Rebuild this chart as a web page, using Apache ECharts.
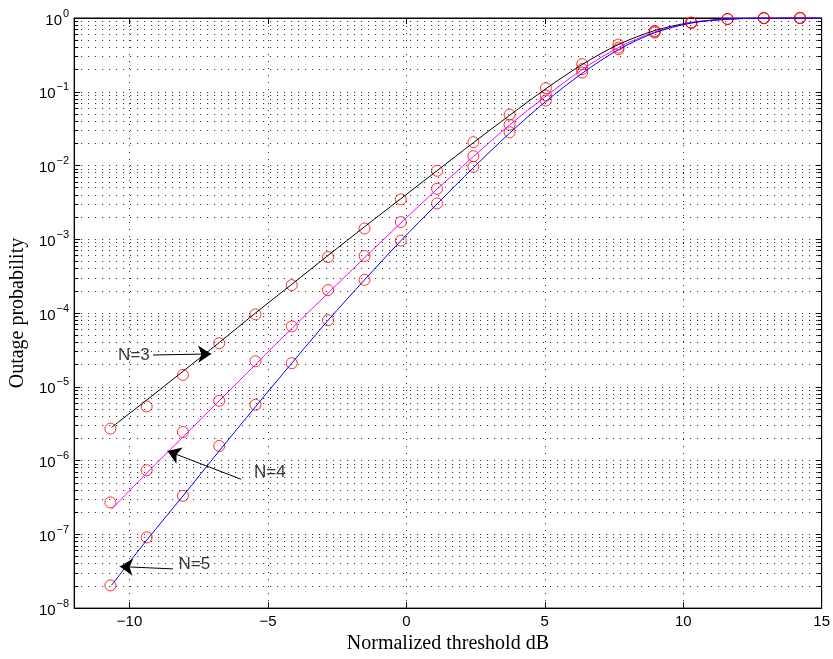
<!DOCTYPE html>
<html>
<head>
<meta charset="utf-8">
<script src="https://cdn.jsdelivr.net/npm/echarts@6/dist/echarts.min.js"></script>
<style>
  html, body { margin: 0; background: #fff; }
  #chart { width: 833px; height: 659px; }
</style>
</head>
<body>
<div id="chart"></div>
<script>
// simulated points (circles)
const xSim = [-10.69, -9.38, -8.07, -6.76, -5.45, -4.14, -2.83, -1.51, -0.20, 1.11, 2.42, 3.73, 5.04, 6.35, 7.66, 8.97, 10.29, 11.60, 12.91, 14.22]
const simN3 = [2.71e-6, 5.42e-6, 1.45e-5, 3.90e-5, 9.6e-5, 2.39e-4, 5.76e-4, 1.40e-3, 3.47e-3, 8.48e-3, 2.07e-2, 4.89e-2, 0.112, 0.237, 0.436, 0.668, 0.866, 0.970, 0.996, 1.0]
const simN4 = [2.71e-7, 7.39e-7, 2.44e-6, 6.47e-6, 2.22e-5, 6.6e-5, 2.05e-4, 5.94e-4, 1.71e-3, 4.84e-3, 1.34e-2, 3.58e-2, 0.089, 0.203, 0.397, 0.653, 0.862, 0.969, 0.996, 1.0]
const simN5 = [2.03e-8, 9.1e-8, 3.33e-7, 1.58e-6, 5.71e-6, 2.09e-5, 8.0e-5, 2.82e-4, 9.6e-4, 3.06e-3, 9.6e-3, 2.82e-2, 7.6e-2, 0.182, 0.377, 0.634, 0.858, 0.968, 0.996, 1.0]

// analytical curves (lines)
const xTh = [-10.65, -9.38, -8.07, -6.76, -5.45, -4.14, -2.83, -1.51, -0.20, 1.11, 2.42, 3.73, 5.04, 6.35, 7.66, 8.97, 10.29, 11.60, 12.91, 15]
const thN3 = [2.82e-6, 6.61e-6, 1.62e-5, 3.98e-5, 1.0e-4, 2.45e-4, 6.03e-4, 1.48e-3, 3.55e-3, 8.51e-3, 2.04e-2, 4.79e-2, 0.110, 0.234, 0.437, 0.676, 0.871, 0.966, 0.995, 1.0]
const thN4 = [2.19e-7, 6.76e-7, 2.09e-6, 6.46e-6, 2.0e-5, 6.17e-5, 1.86e-4, 5.62e-4, 1.66e-3, 4.79e-3, 1.32e-2, 3.55e-2, 8.71e-2, 0.200, 0.398, 0.646, 0.861, 0.966, 0.995, 1.0]
const thN5 = [2.04e-8, 8.32e-8, 3.31e-7, 1.35e-6, 5.37e-6, 2.09e-5, 7.94e-5, 2.82e-4, 9.55e-4, 3.02e-3, 9.33e-3, 2.75e-2, 7.41e-2, 0.178, 0.372, 0.631, 0.855, 0.964, 0.995, 1.0]

const xTicks = [-10, -5, 0, 5, 10, 15]
const curveNames = ['N=3', 'N=4', 'N=5']

const pair = (xs, ys) => xs.map((x, i) => [x, ys[i]])

// minor grid positions 2..9 x 10^k
const minorVals = []
for (let d = -8; d < 0; d++) {
  for (let m = 2; m <= 9; m++) minorVals.push(m * Math.pow(10, d))
}
const gridStyle = { type: [1, 6], color: '#222', width: 1 }
const gridLines = minorVals.map(v => ({ yAxis: v }))
  .concat(xTicks.slice(0, 5).map(v => ({ xAxis: v })))
const minorTicks = []
minorVals.forEach(v => {
  minorTicks.push([{ coord: [-12, v] }, { coord: [-11.85, v] }])
  minorTicks.push([{ coord: [14.85, v] }, { coord: [15, v] }])
})

const sans = 'Liberation Sans, Arial, sans-serif'
const serif = 'Liberation Serif, Times New Roman, serif'

function logLabel (v) {
  const e = Math.round(Math.log10(v))
  return '{b|10}{s|' + (e < 0 ? '\u2212' + (-e) : e) + '}'
}

const myChart = echarts.init(document.getElementById('chart'))
const option = {
  animation: false,
  backgroundColor: '#fff',
  grid: { left: 73, right: 11, top: 18, bottom: 49, show: true, borderColor: '#000', borderWidth: 1 },
  xAxis: [{
    type: 'value', min: -12, max: 15,
    name: 'Normalized threshold dB', nameLocation: 'middle', nameGap: 22,
    nameTextStyle: { fontFamily: serif, fontSize: 20, color: '#000' },
    axisLine: { onZero: false, lineStyle: { color: '#000' } },
    axisTick: { inside: true, length: 6, customValues: xTicks, lineStyle: { color: '#000' } },
    axisLabel: {
      customValues: xTicks, margin: 6, color: '#000', fontFamily: sans, fontSize: 15,
      formatter: v => (v < 0 ? '\u2212' + (-v) : '' + v)
    },
    splitLine: { show: false }
  }, {
    type: 'value', min: -12, max: 15, position: 'top',
    axisLine: { onZero: false, lineStyle: { color: '#000' } },
    axisTick: { inside: true, length: 6, customValues: xTicks, lineStyle: { color: '#000' } },
    axisLabel: { show: false },
    splitLine: { show: false }
  }],
  yAxis: [{
    type: 'log', logBase: 10, min: 1e-8, max: 1, interval: 1,
    name: 'Outage probability', nameLocation: 'middle', nameGap: 36,
    nameTextStyle: { fontFamily: serif, fontSize: 20, color: '#000' },
    axisLine: { onZero: false, lineStyle: { color: '#000' } },
    axisTick: { inside: true, length: 6, lineStyle: { color: '#000' } },
    axisLabel: {
      margin: 5, formatter: logLabel,
      rich: {
        b: { fontFamily: sans, fontSize: 15, color: '#000', lineHeight: 20, verticalAlign: 'bottom' },
        s: { fontFamily: sans, fontSize: 11, color: '#000', lineHeight: 20, verticalAlign: 'top', padding: [0, 0, 0, 1] }
      }
    },
    splitLine: { show: true, lineStyle: gridStyle },
    minorTick: { show: false }
  }, {
    type: 'log', logBase: 10, min: 1e-8, max: 1, interval: 1, position: 'right',
    axisLine: { onZero: false, lineStyle: { color: '#000' } },
    axisTick: { inside: true, length: 6, lineStyle: { color: '#000' } },
    axisLabel: { show: false },
    splitLine: { show: false }
  }],
  series: [
    {
      name: 'grid', type: 'line', data: [], silent: true,
      markLine: { silent: true, precision: 12, symbol: 'none', label: { show: false }, lineStyle: gridStyle, data: gridLines }
    },
    {
      name: 'ticks', type: 'line', data: [], silent: true, z: 5,
      markLine: { silent: true, precision: 12, symbol: 'none', label: { show: false }, lineStyle: { type: 'solid', color: '#000', width: 1 }, data: minorTicks }
    },
    { name: curveNames[0], type: 'line', data: pair(xTh, thN3), showSymbol: false, smooth: 0.3, lineStyle: { color: '#000', width: 1 } },
    { name: curveNames[1], type: 'line', data: pair(xTh, thN4), showSymbol: false, smooth: 0.3, lineStyle: { color: '#ff00ff', width: 1 } },
    { name: curveNames[2], type: 'line', data: pair(xTh, thN5), showSymbol: false, smooth: 0.3, lineStyle: { color: '#0000ff', width: 1 } },
    ...[simN3, simN4, simN5].map(s => ({
      type: 'scatter', data: pair(xSim, s), symbol: 'circle', symbolSize: 11,
      itemStyle: { color: 'transparent', borderColor: '#ff0000', borderWidth: 1 }
    })),
    {
      name: 'notes', type: 'scatter', symbolSize: 0, silent: true,
      data: [
        { name: curveNames[0], value: [-9.84, 2.7e-5] },
        { name: curveNames[1], value: [-4.93, 6.9e-7] },
        { name: curveNames[2], value: [-7.66, 3.93e-8] }
      ],
      label: {
        show: true, position: 'inside', formatter: '{b}', fontFamily: sans, fontSize: 17,
        color: '#000', textBorderWidth: 0
      },
      markLine: {
        silent: true, precision: 12, symbol: ['none', 'arrow'], symbolSize: 13,
        label: { show: false },
        lineStyle: { type: 'solid', color: '#000', width: 1 },
        data: [
          [{ coord: [-9.15, 2.7e-5] }, { coord: [-7.05, 2.79e-5] }],
          [{ coord: [-5.97, 5.58e-7] }, { coord: [-8.63, 1.35e-6] }],
          [{ coord: [-8.43, 3.4e-8] }, { coord: [-10.35, 3.66e-8] }]
        ]
      }
    }
  ]
}
myChart.setOption(option)
</script>
</body>
</html>
